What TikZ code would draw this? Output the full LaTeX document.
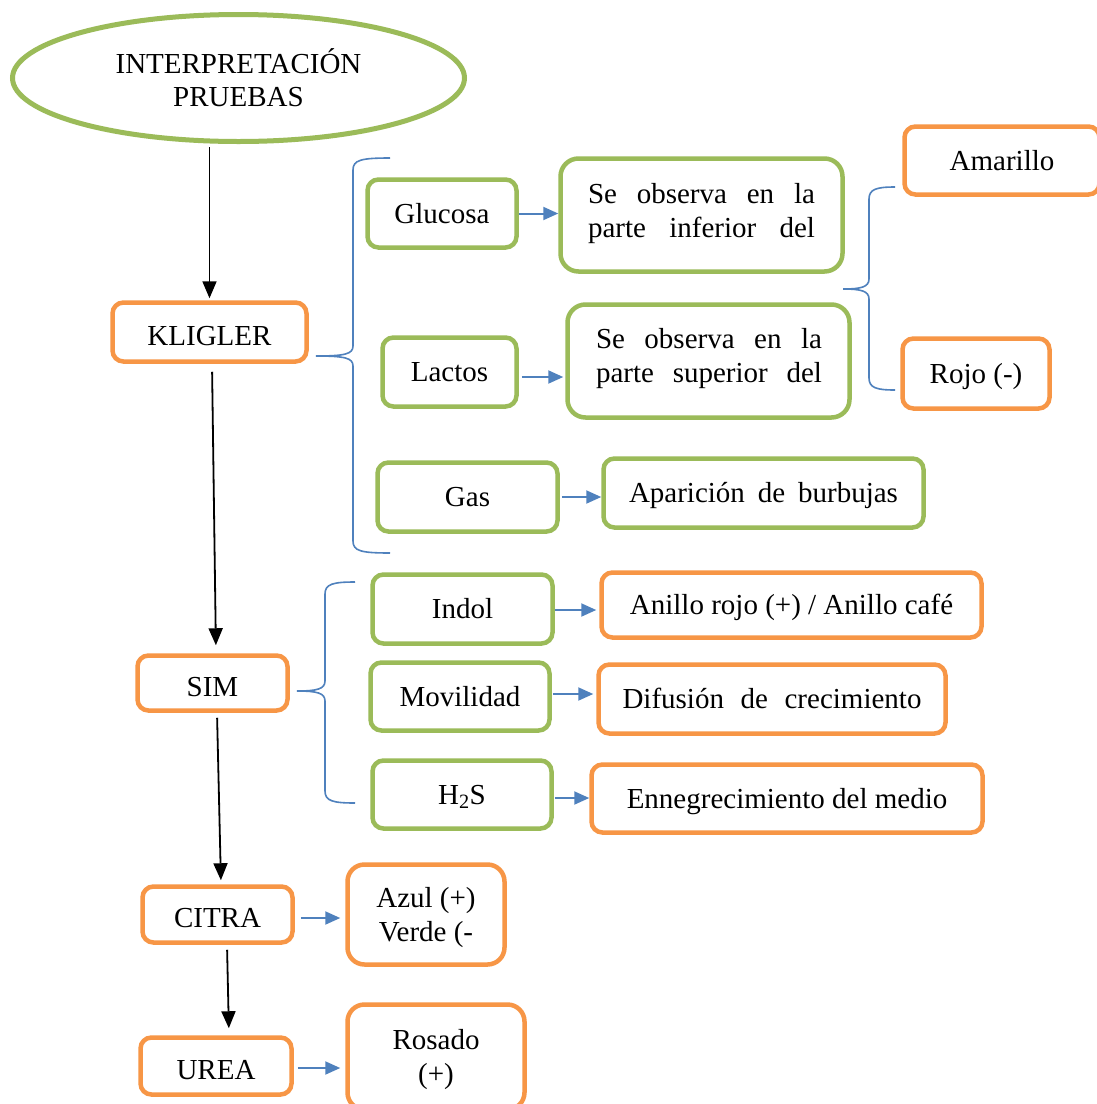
\documentclass[tikz,border=0pt]{standalone}
\usepackage{fontspec}
\setmainfont{Liberation Serif}
\usetikzlibrary{arrows.meta,shapes.geometric}
\definecolor{boxgreen}{HTML}{9BBB59}
\definecolor{boxorange}{HTML}{F79646}
\definecolor{linkblue}{HTML}{4F81BD}
% curly brace: tip x, tip y, spine x, top y, bottom y, end x
\newcommand\curlybrace[6]{%
  \draw[brace] (#6,#4) .. controls (#3+8,#4) and (#3,#4+2) .. (#3,#4+12)
    -- (#3,#2-10) .. controls (#3,#2-2) and (#3-8,#2) .. (#1,#2)
    .. controls (#3-8,#2) and (#3,#2+2) .. (#3,#2+10)
    -- (#3,#5-12) .. controls (#3,#5-2) and (#3+8,#5) .. (#6,#5);}
\begin{document}
\begin{tikzpicture}[x=1pt,y=-1pt,
  every node/.style={font=\fontsize{29}{34}\selectfont, inner sep=0pt},
  box/.style={line width=4.5pt, rounded corners=11pt},
  gbox/.style={box, draw=boxgreen},
  obox/.style={box, draw=boxorange},
  onerow/.style={text height=19pt, text depth=0pt},
  lowrow/.style={text height=26pt, text depth=0pt},
  big/.style={rounded corners=18pt},
  blk/.style={draw=black, line width=1.8pt, -{Triangle[length=17pt,width=14pt]}},
  blu/.style={draw=linkblue, line width=2pt, -{Triangle[length=15pt,width=13pt]}},
  brace/.style={draw=linkblue, line width=1.6pt}]
\useasboundingbox[fill=white] (0,0) rectangle (1096,1104);

% title
\node[ellipse, draw=boxgreen, line width=5pt, minimum width=452, minimum height=127, align=center]
  (top) at (238.5,78) {INTERPRETACIÓN\\[-1pt]PRUEBAS};

% main column
\node[obox,lowrow,minimum width=194,minimum height=59] (kligler) at (209.5,332) {KLIGLER};
\node[obox,lowrow,minimum width=150,minimum height=55] (sim) at (212.5,683) {SIM};
\node[obox,lowrow,minimum width=150,minimum height=56] (citra) at (217.5,914.5) {CITRA};
\node[obox,lowrow,minimum width=151,minimum height=57] (urea) at (216,1066) {UREA};

% KLIGLER branch
\node[gbox,onerow,minimum width=149,minimum height=68] (glucosa) at (442,213.5) {Glucosa};
\node[gbox,big,minimum width=282,minimum height=113] (obs1) at (701.5,215) {};
\node[align=left] (obs1t) at (701.5,214)
  {\makebox[227pt][s]{Se observa en la}\\\makebox[227pt][s]{parte inferior del}};
\node[gbox,onerow,minimum width=134,minimum height=69] (lactos) at (449.5,372) {Lactos};
\node[gbox,big,minimum width=282,minimum height=113] (obs2) at (708.5,361) {};
\node[align=left] (obs2t) at (709,359)
  {\makebox[226pt][s]{Se observa en la}\\\makebox[226pt][s]{parte superior del}};
\node[gbox,onerow,minimum width=180,minimum height=69] (gas) at (467.5,497) {Gas};
\node[gbox,onerow,minimum width=320,minimum height=69] (burb) at (763.5,493)
  {\makebox[269pt][s]{Aparición de burbujas}};
\node[obox,onerow,minimum width=195,minimum height=68] (amar) at (1002,160.5) {Amarillo};
\node[obox,onerow,minimum width=147,minimum height=70] (rojo) at (976,373.5) {Rojo (-)};

% SIM branch
\node[gbox,onerow,minimum width=180,minimum height=69] (indol) at (462.5,609) {Indol};
\node[obox,onerow,minimum width=380,minimum height=65] (anillo) at (791.5,605) {Anillo rojo (+) / Anillo café};
\node[gbox,onerow,minimum width=179,minimum height=68] (movil) at (460,696.5) {Movilidad};
\node[obox,onerow,minimum width=347,minimum height=69] (difus) at (772,699)
  {\makebox[299pt][s]{Difusión de crecimiento}};
\node[gbox,onerow,minimum width=179,minimum height=68] (hs) at (462,794.5) {H\textsubscript{2}S};
\node[obox,onerow,minimum width=391,minimum height=68] (enne) at (787,798.5) {Ennegrecimiento del medio};

% CITRA and UREA results
\node[obox,minimum width=157,minimum height=100,rounded corners=17pt,align=center]
  (azul) at (426,914.5) {\rule{0pt}{26pt}Azul (+)\\Verde (-};
\node[obox,minimum width=177,minimum height=105,rounded corners=17pt,align=center]
  (rosado) at (436,1057) {\rule{0pt}{26pt}Rosado\\(+)};

% main flow
\draw[blk, shorten <=3pt, shorten >=2pt] (kligler.north |- top.south) -- (kligler.north);
\draw[blk, shorten <=8pt, shorten >=8pt] ([xshift=2.5pt]kligler.south) -- ([xshift=3.5pt]sim.north);
\draw[blk, shorten <=5pt, shorten >=4pt] ([xshift=4.5pt]sim.south) -- ([xshift=3.5pt]citra.north);
\draw[blk, shorten <=5pt, shorten >=7pt] ([xshift=9.5pt]citra.south) -- ([xshift=13pt]urea.north);

% side results
\coordinate (lo) at ([yshift=-5pt]lactos.east);
\coordinate (io) at ([yshift=-1pt]indol.east);
\coordinate (mo) at ([yshift=2.5pt]movil.east);
\coordinate (ho) at ([yshift=-3.5pt]hs.east);
\coordinate (co) at ([yshift=-3.5pt]citra.east);
\coordinate (uo) at ([yshift=-2pt]urea.east);
\draw[blu] (glucosa.east) -- (glucosa.east -| obs1.west);
\draw[blu, shorten <=3pt, shorten >=2pt] (lo) -- (lo -| obs2.west);
\draw[blu, shorten <=2pt] (gas.east) -- (gas.east -| burb.west);
\draw[blu, shorten >=3pt] (io) -- (io -| anillo.west);
\draw[blu, shorten <=1pt, shorten >=3pt] (mo) -- (mo -| difus.west);
\draw[blu, shorten <=1pt] (ho) -- (ho -| enne.west);
\draw[blu, shorten <=6pt, shorten >=5pt] (co) -- (co -| azul.west);
\draw[blu, shorten <=4pt, shorten >=5pt] (uo) -- (uo -| rosado.west);

% braces
\curlybrace{316}{356}{353}{158}{553}{390}
\curlybrace{297}{691}{325}{582}{803}{355}
\curlybrace{843}{289}{869}{187}{390}{895}
\end{tikzpicture}
\end{document}
